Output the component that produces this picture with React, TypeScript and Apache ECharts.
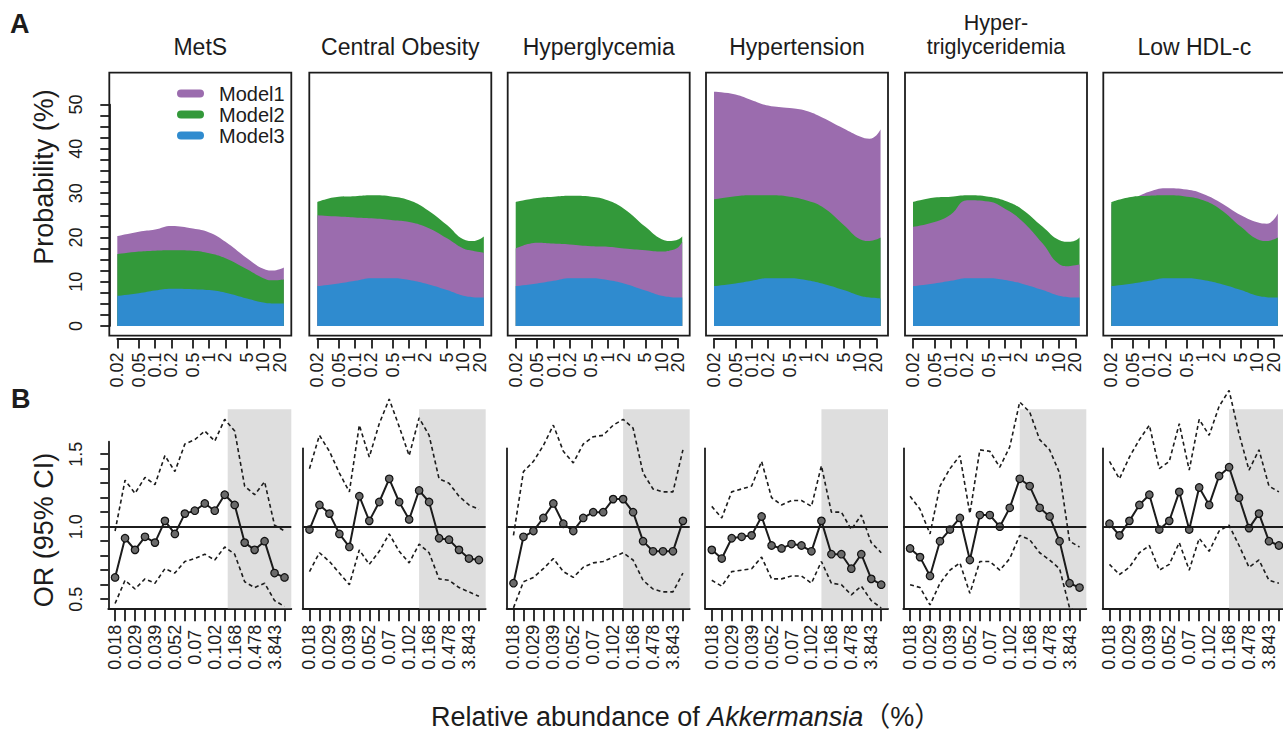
import React, { useEffect, useRef } from "react";
import * as echarts from "echarts";

// ---------------- data ----------------
const PANEL_TITLES = ["MetS", "Central Obesity", "Hyperglycemia", "Hypertension", "Hyper-\ntriglyceridemia", "Low HDL-c"];
const MODEL_NAMES = ["Model1", "Model2", "Model3"];

// Panel A: relative abundance (%) sample points and tick labels
const A_X = [0.02, 0.05, 0.1, 0.2, 0.5, 1, 2, 5, 10, 15, 20, 24];
const A_TICKS = [0.02, 0.05, 0.1, 0.2, 0.5, 1, 2, 5, 10, 20];
const A_TICK_LABELS = ["0.02", "0.05", "0.1", "0.2", "0.5", "1", "2", "5", "10", "20"];
const A_Y_TICKS = [0, 2.5, 5, 7.5, 10, 12.5, 15, 17.5, 20, 22.5, 25, 27.5, 30, 32.5, 35, 37.5, 40, 42.5, 45, 47.5, 50];
const A_Y_LABELS = [0, 10, 20, 30, 40, 50];

// Probability (%) per panel (MetS, Central Obesity, Hyperglycemia, Hypertension, Hypertriglyceridemia, Low HDL-c)
const MODEL1 = [
  [20.3, 21.3, 21.8, 22.6, 22.0, 21.1, 19.0, 15.3, 12.9, 12.5, 12.8, 13.2],
  [25.0, 24.7, 24.5, 24.3, 23.9, 23.5, 22.4, 19.8, 17.5, 17.0, 16.7, 16.5],
  [17.5, 18.8, 18.6, 18.4, 18.0, 17.9, 17.5, 17.1, 16.8, 17.1, 17.7, 19.0],
  [52.9, 52.3, 51.0, 49.8, 49.2, 48.6, 47.1, 44.6, 42.8, 42.3, 43.0, 44.4],
  [22.4, 23.5, 25.2, 28.4, 28.1, 26.5, 23.9, 18.6, 14.0, 13.5, 13.7, 13.9],
  [27.5, 28.8, 30.3, 31.1, 30.8, 29.8, 28.0, 25.0, 23.4, 23.1, 24.0, 25.4],
];
const MODEL2 = [
  [16.2, 16.8, 17.0, 17.1, 17.0, 16.4, 15.3, 12.8, 10.8, 10.3, 10.4, 10.5],
  [28.0, 29.2, 29.3, 29.5, 29.2, 28.4, 26.5, 22.8, 19.6, 19.2, 19.6, 20.2],
  [28.0, 28.9, 29.2, 29.4, 29.2, 28.4, 26.5, 22.4, 19.6, 19.2, 19.5, 20.2],
  [28.6, 29.3, 29.5, 29.5, 29.2, 28.4, 26.9, 22.8, 19.6, 19.2, 19.5, 20.0],
  [28.0, 29.0, 29.2, 29.5, 29.2, 28.3, 26.5, 22.4, 19.4, 19.0, 19.3, 20.0],
  [28.0, 29.2, 29.4, 29.5, 29.2, 28.4, 26.5, 22.4, 19.6, 19.2, 19.5, 20.0],
];
const MODEL3 = [
  [6.8, 7.4, 8.0, 8.4, 8.3, 8.1, 7.5, 6.2, 5.3, 5.1, 5.1, 5.1],
  [9.0, 9.6, 10.2, 10.8, 10.8, 10.4, 9.6, 8.1, 6.8, 6.5, 6.4, 6.4],
  [9.0, 9.6, 10.2, 10.8, 10.8, 10.4, 9.6, 8.0, 6.8, 6.5, 6.4, 6.4],
  [9.0, 9.6, 10.2, 10.8, 10.8, 10.4, 9.6, 8.1, 6.8, 6.4, 6.3, 6.2],
  [9.0, 9.6, 10.2, 10.8, 10.8, 10.4, 9.6, 8.1, 6.8, 6.5, 6.4, 6.4],
  [9.0, 9.6, 10.2, 10.8, 10.8, 10.4, 9.6, 8.1, 6.8, 6.5, 6.4, 6.4],
];
// drawing order (back to front) of the models in each panel
const A_ORDER = [[0, 1, 2], [1, 0, 2], [1, 0, 2], [0, 1, 2], [1, 0, 2], [0, 1, 2]];

// Panel B: 18 abundance groups, labels on every other tick
const B_TICK_LABELS = ["0.018", "0.029", "0.039", "0.052", "0.07", "0.102", "0.168", "0.478", "3.843"];
const B_Y_TICKS = [0.5, 0.6, 0.7, 0.8, 0.9, 1.0, 1.1, 1.2, 1.3, 1.4, 1.5];
const B_Y_LABELS = [0.5, 1.0, 1.5];
const OR_EST = [
  [0.65, 0.92, 0.84, 0.93, 0.89, 1.04, 0.95, 1.09, 1.11, 1.16, 1.11, 1.22, 1.15, 0.89, 0.84, 0.90, 0.68, 0.65],
  [0.98, 1.15, 1.09, 0.95, 0.86, 1.21, 1.04, 1.17, 1.33, 1.17, 1.05, 1.25, 1.17, 0.92, 0.91, 0.84, 0.78, 0.77],
  [0.61, 0.93, 0.97, 1.06, 1.16, 1.02, 0.97, 1.06, 1.10, 1.10, 1.19, 1.19, 1.10, 0.90, 0.83, 0.83, 0.83, 1.04],
  [0.84, 0.78, 0.92, 0.93, 0.94, 1.07, 0.87, 0.85, 0.88, 0.87, 0.83, 1.04, 0.81, 0.81, 0.71, 0.81, 0.64, 0.60],
  [0.85, 0.79, 0.66, 0.90, 0.98, 1.06, 0.77, 1.08, 1.08, 1.00, 1.13, 1.33, 1.28, 1.13, 1.07, 0.90, 0.61, 0.58],
  [1.02, 0.94, 1.04, 1.15, 1.22, 0.98, 1.04, 1.24, 0.98, 1.27, 1.15, 1.35, 1.41, 1.20, 0.99, 1.09, 0.90, 0.87],
];
const OR_UPPER = [
  [0.97, 1.32, 1.23, 1.34, 1.29, 1.49, 1.38, 1.57, 1.60, 1.66, 1.59, 1.74, 1.66, 1.28, 1.22, 1.31, 1.01, 0.97],
  [1.40, 1.63, 1.52, 1.37, 1.24, 1.70, 1.48, 1.71, 1.88, 1.69, 1.49, 1.75, 1.63, 1.33, 1.30, 1.21, 1.15, 1.12],
  [0.94, 1.38, 1.45, 1.56, 1.70, 1.52, 1.44, 1.57, 1.62, 1.63, 1.70, 1.74, 1.68, 1.37, 1.26, 1.24, 1.24, 1.53],
  [1.14, 1.06, 1.24, 1.26, 1.28, 1.45, 1.20, 1.15, 1.18, 1.18, 1.14, 1.42, 1.10, 1.10, 0.98, 1.08, 0.89, 0.82],
  [1.21, 1.12, 0.95, 1.28, 1.40, 1.49, 1.09, 1.53, 1.52, 1.41, 1.55, 1.86, 1.79, 1.60, 1.53, 1.37, 0.90, 0.86],
  [1.45, 1.33, 1.48, 1.60, 1.70, 1.40, 1.45, 1.71, 1.39, 1.74, 1.63, 1.83, 1.94, 1.64, 1.39, 1.53, 1.28, 1.24],
];
const OR_LOWER = [
  [0.47, 0.63, 0.57, 0.64, 0.61, 0.71, 0.68, 0.76, 0.78, 0.81, 0.77, 0.86, 0.81, 0.62, 0.58, 0.61, 0.49, 0.45],
  [0.69, 0.82, 0.76, 0.68, 0.60, 0.84, 0.74, 0.83, 0.95, 0.83, 0.75, 0.88, 0.82, 0.64, 0.63, 0.58, 0.55, 0.52],
  [0.44, 0.62, 0.65, 0.71, 0.78, 0.69, 0.65, 0.72, 0.75, 0.76, 0.79, 0.82, 0.77, 0.63, 0.57, 0.55, 0.55, 0.68],
  [0.63, 0.59, 0.69, 0.70, 0.71, 0.79, 0.64, 0.64, 0.66, 0.66, 0.61, 0.76, 0.61, 0.60, 0.53, 0.59, 0.49, 0.44],
  [0.60, 0.58, 0.46, 0.61, 0.70, 0.75, 0.54, 0.76, 0.76, 0.70, 0.78, 0.94, 0.91, 0.82, 0.77, 0.71, 0.44, 0.40],
  [0.74, 0.67, 0.72, 0.82, 0.87, 0.70, 0.74, 0.89, 0.70, 0.92, 0.83, 0.97, 1.01, 0.87, 0.72, 0.77, 0.63, 0.61],
];
const SHADE_START = [12.3, 12, 12, 12, 12, 13];
const SHADE_TOP = 1.81;

// ---------------- layout & style ----------------
const FONT = '"Liberation Sans", Arial, Helvetica, sans-serif';
const INK = "#1c1c1c";
const COLORS = ["#9b6cae", "#33993a", "#2f8bcf"];

const A_LEFTS = [109.3, 309.3, 507.7, 706, 905, 1103.3];
const A_TOP = 72.7;
const A_W = 182;
const A_H = 263;
const A_XMIN = -1.847;
const A_XMAX = 1.518;
const A_YMIN = -2.2;
const A_YMAX = 57.2;
const A_XAXIS_Y = 338.5;

const B_LEFTS = [108.3, 302.7, 506.7, 705, 903.3, 1102.7];
const B_W = 183;
const B_TOP = 380;
const B_BOTTOM = 608.3;
const B_XMIN = 0.32;
const B_XMAX = 18.68;
const B_YMIN = 0.437;
const B_YMAX = 0.437 + (608.3 - 380) / 145;
const B_YLINE_TOP = [441.7, 448.3, 448.3, 448.3, 448.3, 448.3];

const LOG = (v: number) => Math.log10(v);
const hiddenAxis = { type: "value", show: false, min: 0, max: 1, splitLine: { show: false } };
const noGridBounds = { containLabel: false, outerBoundsMode: "none" };

function buildOption() {
  const grid: any[] = [];
  const xAxis: any[] = [];
  const yAxis: any[] = [];
  const series: any[] = [];
  const graphic: any[] = [];
  const addGrid = (g: any, xa: any, ya: any) => {
    const gi = grid.length;
    grid.push({ ...noGridBounds, ...g });
    xAxis.push({ ...xa, gridIndex: gi });
    yAxis.push({ ...ya, gridIndex: gi });
    return gi;
  };
  const MODELS = [MODEL1, MODEL2, MODEL3];
  const axisLineStyle = { color: INK, width: 1.8 };
  const labelBase = { color: INK, fontFamily: FONT, fontSize: 18 };

  // ----- Row A -----
  A_LEFTS.forEach((L, i) => {
    const gi = addGrid(
      { left: L, top: A_TOP, width: A_W, height: A_H, show: true, borderColor: INK, borderWidth: 1.8 },
      { type: "value", min: A_XMIN, max: A_XMAX, show: false, splitLine: { show: false } },
      { type: "value", min: A_YMIN, max: A_YMAX, show: false, splitLine: { show: false } }
    );
    A_ORDER[i].forEach((m) => {
      series.push({
        type: "line",
        name: MODEL_NAMES[m],
        xAxisIndex: gi,
        yAxisIndex: gi,
        data: A_X.map((x, k) => [LOG(x), MODELS[m][i][k]]),
        smooth: 0.45,
        symbol: "none",
        silent: true,
        lineStyle: { width: 0, color: COLORS[m] },
        itemStyle: { color: COLORS[m] },
        areaStyle: { color: COLORS[m], opacity: 1 },
        z: 2,
      });
    });
    // separate tick axis spanning 0.02 .. 20; labels split over two overlaid axes
    const tickVals = A_TICKS.map(LOG);
    const x0 = L + ((tickVals[0] - A_XMIN) / (A_XMAX - A_XMIN)) * A_W;
    const x1 = L + ((tickVals[tickVals.length - 1] - A_XMIN) / (A_XMAX - A_XMIN)) * A_W;
    const fmt = (v: number) => {
      const k = tickVals.findIndex((t) => Math.abs(t - v) < 1e-6);
      return k >= 0 ? A_TICK_LABELS[k] : "";
    };
    [0, 1].forEach((parity) => {
      addGrid(
        { left: x0, width: x1 - x0, top: A_XAXIS_Y - 1, height: 1 },
        {
          type: "value",
          min: tickVals[0] - 1e-9,
          max: tickVals[tickVals.length - 1] + 1e-9,
          position: "bottom",
          axisLine: { show: parity === 0, lineStyle: axisLineStyle },
          axisTick: { show: parity === 0, customValues: tickVals, length: 10, lineStyle: axisLineStyle },
          axisLabel: {
            ...labelBase,
            customValues: tickVals.filter((_, k) => k % 2 === parity),
            showMinLabel: true,
            showMaxLabel: true,
            hideOverlap: false,
            rotate: 90,
            margin: 14,
            formatter: fmt,
          },
          splitLine: { show: false },
        },
        hiddenAxis
      );
    });
    const twoLine = PANEL_TITLES[i].indexOf("\n") >= 0;
    graphic.push({
      type: "text",
      x: L + A_W / 2,
      y: twoLine ? 35 : 46.5,
      style: {
        text: PANEL_TITLES[i],
        fill: INK,
        fontFamily: FONT,
        fontSize: twoLine ? 21.5 : 23,
        lineHeight: 23.5,
        align: "center",
        textAlign: "center",
        verticalAlign: "middle",
        textVerticalAlign: "middle",
      },
    });
  });
  // y axis for the first A panel (0..50)
  {
    const L = A_LEFTS[0];
    const yTop = A_TOP + ((A_YMAX - 50) / (A_YMAX - A_YMIN)) * A_H;
    const yBot = A_TOP + ((A_YMAX - 0) / (A_YMAX - A_YMIN)) * A_H;
    addGrid(
      { left: L, width: 1, top: yTop, height: yBot - yTop },
      hiddenAxis,
      {
        type: "value",
        min: 0,
        max: 50,
        position: "left",
        axisLine: { show: true, lineStyle: axisLineStyle },
        axisTick: { show: true, customValues: A_Y_TICKS, length: 9, lineStyle: axisLineStyle },
        axisLabel: { ...labelBase, customValues: A_Y_LABELS, showMinLabel: true, showMaxLabel: true, rotate: 90, margin: 24 },
        splitLine: { show: false },
      }
    );
  }

  // ----- Row B -----
  const bTicks = OR_EST[0].map((_, k) => k + 1);
  const bLabelPos = B_TICK_LABELS.map((_, k) => 1 + 2 * k);
  B_LEFTS.forEach((L, i) => {
    const gi = addGrid(
      { left: L, top: B_TOP, width: B_W, height: B_BOTTOM - B_TOP },
      {
        type: "value",
        min: B_XMIN,
        max: B_XMAX,
        position: "bottom",
        axisLine: { show: true, lineStyle: axisLineStyle },
        axisTick: { show: true, customValues: bTicks, length: 13, lineStyle: axisLineStyle },
        axisLabel: {
          ...labelBase,
          customValues: bLabelPos,
          showMinLabel: true,
          showMaxLabel: true,
          rotate: 90,
          align: "center",
          margin: 39,
          formatter: (v: number) => B_TICK_LABELS[Math.round((v - 1) / 2)] ?? "",
        },
        splitLine: { show: false },
      },
      {
        type: "value",
        min: B_YMIN,
        max: B_YMAX,
        show: i === 0,
        position: "left",
        axisLine: { show: false },
        axisTick: { show: true, customValues: B_Y_TICKS, length: 8, lineStyle: axisLineStyle },
        axisLabel: {
          ...labelBase,
          customValues: B_Y_LABELS,
          showMinLabel: true,
          showMaxLabel: true,
          rotate: 90,
          margin: 23,
          formatter: (v: number) => v.toFixed(1),
        },
        splitLine: { show: false },
      }
    );
    series.push({
      type: "line",
      xAxisIndex: gi,
      yAxisIndex: gi,
      data: [],
      silent: true,
      z: 1,
      markArea: {
        silent: true,
        itemStyle: { color: "#dedede" },
        data: [[{ xAxis: SHADE_START[i], yAxis: B_YMIN }, { xAxis: B_XMAX, yAxis: SHADE_TOP }]],
      },
    });
    [OR_UPPER, OR_LOWER].forEach((arr) => {
      series.push({
        type: "line",
        xAxisIndex: gi,
        yAxisIndex: gi,
        data: arr[i].map((v, k) => [k + 1, v]),
        symbol: "none",
        silent: true,
        lineStyle: { color: INK, width: 1.6, type: [4, 3] },
        z: 3,
      });
    });
    series.push({
      type: "line",
      xAxisIndex: gi,
      yAxisIndex: gi,
      data: OR_EST[i].map((v, k) => [k + 1, v]),
      symbol: "circle",
      symbolSize: 7.5,
      silent: true,
      lineStyle: { color: INK, width: 2 },
      itemStyle: { color: "#6a6a6a", borderColor: "#111", borderWidth: 1.2 },
      z: 4,
      markLine: {
        silent: true,
        symbol: "none",
        label: { show: false },
        lineStyle: { color: INK, width: 1.8, type: "solid" },
        data: [{ yAxis: 1 }],
      },
    });
    addGrid(
      { left: L, width: 1, top: B_YLINE_TOP[i], height: B_BOTTOM - B_YLINE_TOP[i] },
      hiddenAxis,
      {
        type: "value",
        min: 0,
        max: 1,
        position: "left",
        axisLine: { show: true, lineStyle: axisLineStyle },
        axisTick: { show: false },
        axisLabel: { show: false },
        splitLine: { show: false },
      }
    );
  });

  // ----- texts -----
  const t = (x: number, y: number, text: string, extra: any = {}, rotation = 0) => ({
    type: "text",
    x,
    y,
    rotation,
    style: {
      text,
      fill: INK,
      fontFamily: FONT,
      fontSize: 27,
      align: "center",
      textAlign: "center",
      verticalAlign: "middle",
      textVerticalAlign: "middle",
      ...extra,
    },
  });
  graphic.push(t(10, 24, "A", { fontWeight: "bold", fontSize: 27, align: "left", textAlign: "left" }));
  graphic.push(t(11, 399, "B", { fontWeight: "bold", fontSize: 27, align: "left", textAlign: "left" }));
  graphic.push(t(44, 177, "Probability (%)", {}, Math.PI / 2));
  graphic.push(t(44, 530, "OR (95% CI)", {}, Math.PI / 2));
  graphic.push(
    t(431, 716.5, "Relative abundance of {i|Akkermansia}（%）", {
      align: "left",
      textAlign: "left",
      fontFamily: FONT + ', "Noto Sans CJK SC"',
      rich: { i: { fontStyle: "italic", fontSize: 27, fontFamily: FONT, fill: INK } },
    })
  );

  return {
    animation: false,
    backgroundColor: "#ffffff",
    grid,
    xAxis,
    yAxis,
    series,
    graphic,
    legend: {
      data: MODEL_NAMES,
      orient: "vertical",
      left: 172,
      top: 78,
      itemWidth: 27,
      itemHeight: 8,
      itemGap: 0,
      selectedMode: false,
      icon: "path://M4,0L23,0A4,4,0,0,1,23,8L4,8A4,4,0,0,1,4,0Z",
      itemStyle: { borderWidth: 0 },
      textStyle: { fontSize: 20, fontFamily: FONT, color: INK, lineHeight: 21, padding: [0, 0, 0, 10] },
    },
  };
}

export default function App() {
  const ref = useRef<HTMLDivElement>(null);
  useEffect(() => {
    if (!ref.current) return;
    const chart = echarts.init(ref.current, null, { renderer: "svg" });
    chart.setOption(buildOption() as any);
    return () => chart.dispose();
  }, []);
  return (
    <div
      ref={ref}
      style={{ position: "absolute", left: 0, top: 0, width: 1283, height: 734, background: "#fff" }}
    />
  );
}
